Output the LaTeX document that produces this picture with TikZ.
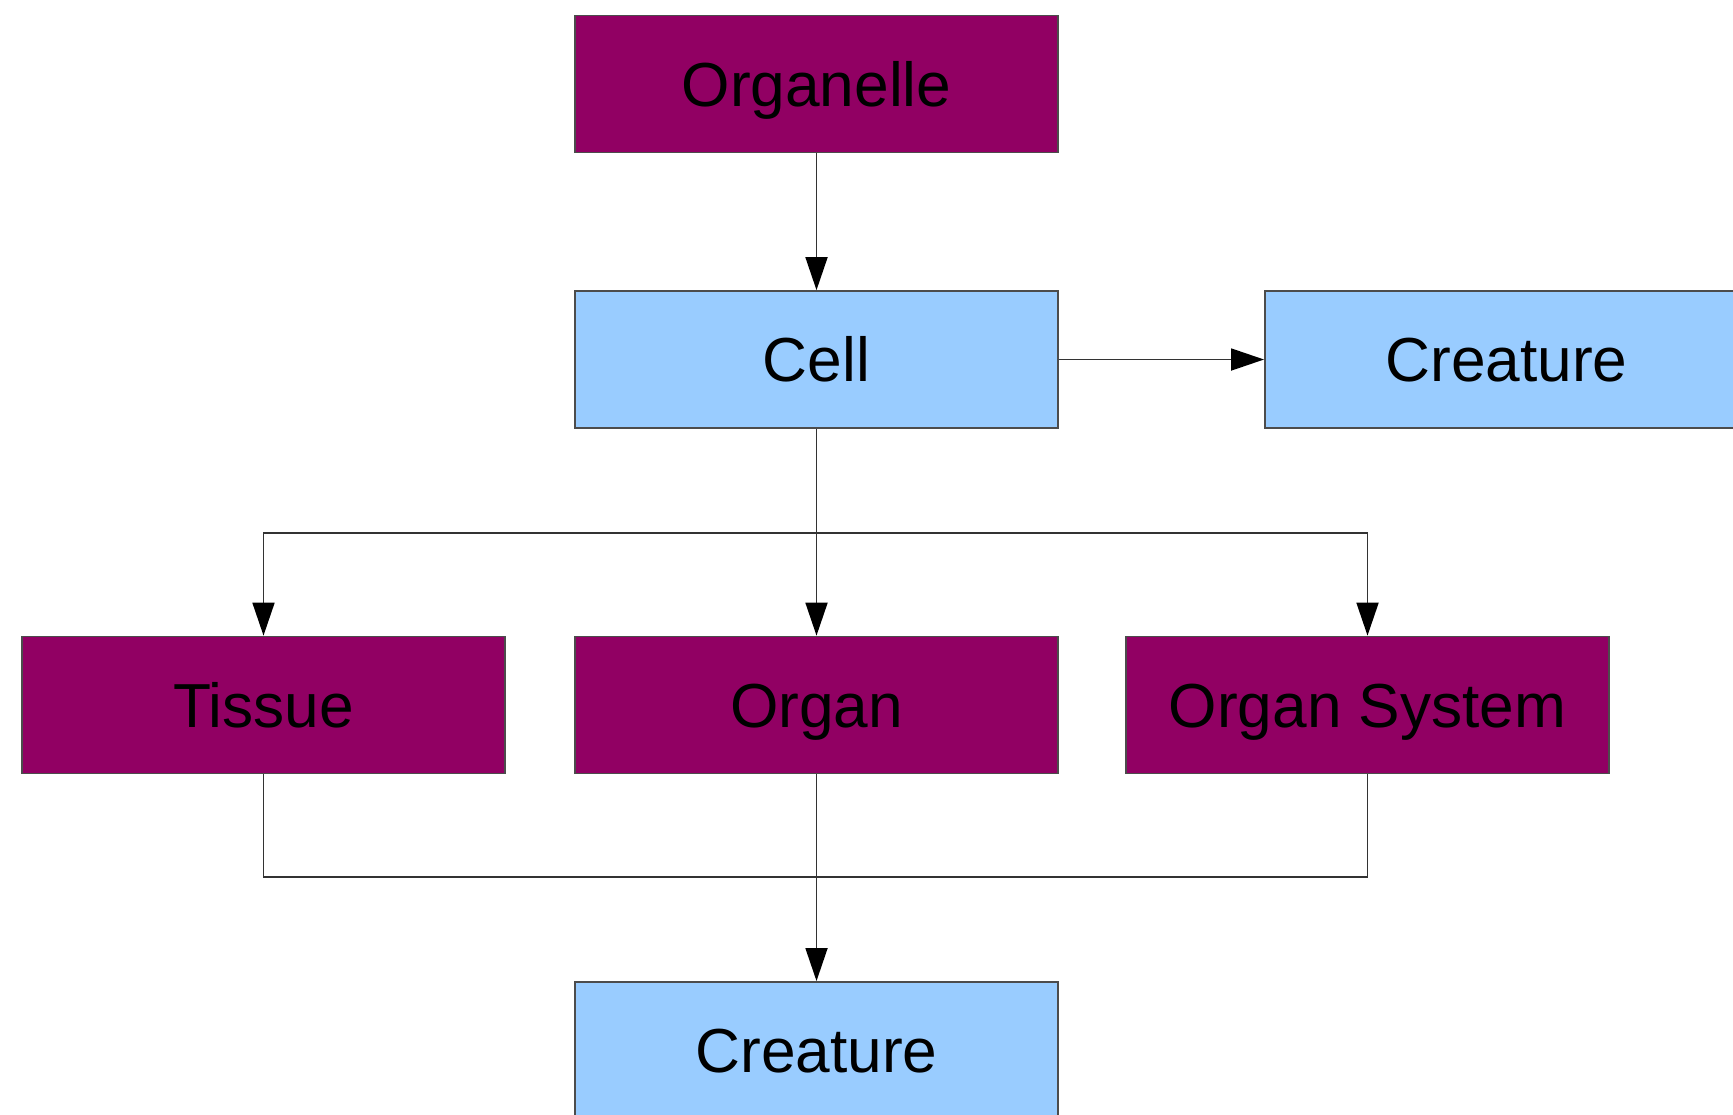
\documentclass[tikz,border=0pt]{standalone}
\usepackage{fontspec}
\setmainfont{Liberation Sans}
\usetikzlibrary{arrows.meta}

\definecolor{levelpurple}{RGB}{145,0,99}
\definecolor{levelblue}{RGB}{153,204,255}

\tikzset{
    level/.style={draw=black!70, line width=0.5pt, minimum width=4.83cm, minimum height=1.37cm,
        inner sep=0pt, text height=12.7pt, text depth=0pt, font=\fontsize{17.7}{21}\selectfont},
    sub/.style={level, fill=levelpurple},
    whole/.style={level, fill=levelblue},
    link/.style={draw=black!80, line width=0.5pt},
    arr/.style={link, -{Triangle[length=3.3mm,width=2.2mm,color=black]}}
}

\begin{document}
\begin{tikzpicture}
    \clip (0,0) rectangle (17.33,-11.14);

    \node[sub] (organelle) at (8.165,-0.84) {Organelle};
    \node[whole] (cell) at (8.165,-3.595) {Cell};
    \node[whole, anchor=west] (creatureA) at (12.64,-3.595) {Creature};

    \node[sub] (tissue) at (2.635,-7.05) {Tissue};
    \node[sub] (organ) at (8.165,-7.05) {Organ};
    \node[sub] (system) at (13.675,-7.05) {Organ System};

    \node[whole, anchor=north] (creatureB) at (8.165,-9.81) {Creature};

    \coordinate (split) at (8.165,-5.33);
    \coordinate (join) at (8.165,-8.77);

    \draw[arr] (organelle) -- (cell);
    \draw[arr] (cell) -- (creatureA);

    % cell to the three levels below
    \draw[arr] (cell) -- (organ);
    \draw[arr] (split) -| (tissue);
    \draw[arr] (split) -| (system);

    % gather into the creature
    \draw[link] (tissue) |- (join);
    \draw[link] (system) |- (join);
    \draw[arr] (organ) -- (creatureB);
\end{tikzpicture}
\end{document}
